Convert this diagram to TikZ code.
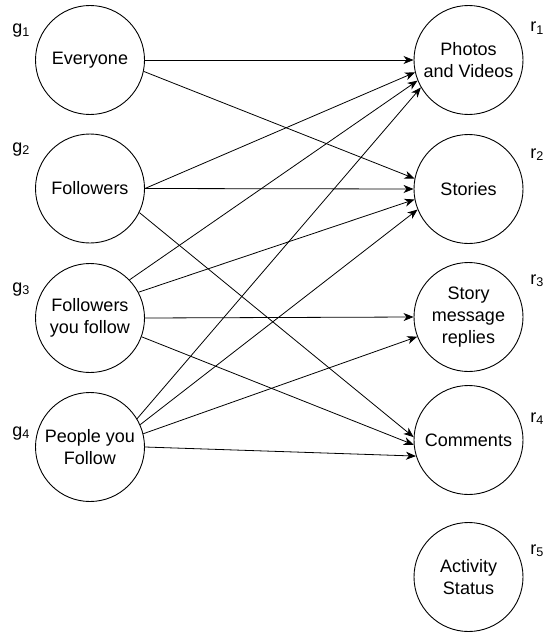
\documentclass[tikz,border=0pt]{standalone}
\usepackage{fontspec}
\setmainfont{Liberation Sans}
\usetikzlibrary{arrows.meta}
\tikzset{
	node_circ/.style = {
		circle,
		draw=black,
		line width=0.9pt,
		inner sep=0pt,
		minimum size=109pt,
		align=center,
		font=\fontsize{18}{22}\selectfont
	},
	node_lbl/.style = {
		inner sep=0pt,
		anchor=base west,
		font=\fontsize{18}{22}\selectfont
	},
}
\begin{document}
\begin{tikzpicture}[x=1pt, y=-1pt, ->, >={Stealth[length=10pt,width=8pt,inset=3pt]}, line width=0.8pt]
\useasboundingbox (0,0) rectangle (544,634);
% groups
\node [node_circ] (g1) at (90,60) {Everyone};
\node [node_circ] (g2) at (90,188.5) {Followers};
\node [node_circ] (g3) at (90,318) {Followers\\you follow};
\node [node_circ] (g4) at (90,447) {People you\\Follow};
% resources
\node [node_circ] (r1) at (468.5,60) {Photos\\and Videos};
\node [node_circ] (r2) at (468.5,189) {Stories};
\node [node_circ] (r3) at (468.5,317) {Story\\message\\replies};
\node [node_circ] (r4) at (468.5,440) {Comments};
\node [node_circ] (r5) at (468.5,577) {Activity\\Status};
% labels
\node [node_lbl] (lg1) at (12,34) {g\textsubscript{1}};
\node [node_lbl] (lg2) at (12,152) {g\textsubscript{2}};
\node [node_lbl] (lg3) at (12,292) {g\textsubscript{3}};
\node [node_lbl] (lg4) at (12,436) {g\textsubscript{4}};
\node [node_lbl] (lr1) at (530,32) {r\textsubscript{1}};
\node [node_lbl] (lr2) at (530,158) {r\textsubscript{2}};
\node [node_lbl] (lr3) at (530,284) {r\textsubscript{3}};
\node [node_lbl] (lr4) at (530,422) {r\textsubscript{4}};
\node [node_lbl] (lr5) at (530,554) {r\textsubscript{5}};
% edges
\draw (g1.0) -- (r1.180);
\draw (g1.-12) -- (r2.169);
\draw (g2.0) -- (r1.-167);
\draw (g2.0) -- (r2.180);
\draw (g2.-26) -- (r4.177);
\draw (g3.44) -- (r1.-158);
\draw (g3.28) -- (r2.-169);
\draw (g3.0) -- (r3.180);
\draw (g3.-20) -- (r4.-175);
\draw (g4.31) -- (r1.-150);
\draw (g4.24) -- (r2.-158);
\draw (g4.14) -- (r3.-159);
\draw (g4.0) -- (r4.-163);
\end{tikzpicture}
\end{document}
